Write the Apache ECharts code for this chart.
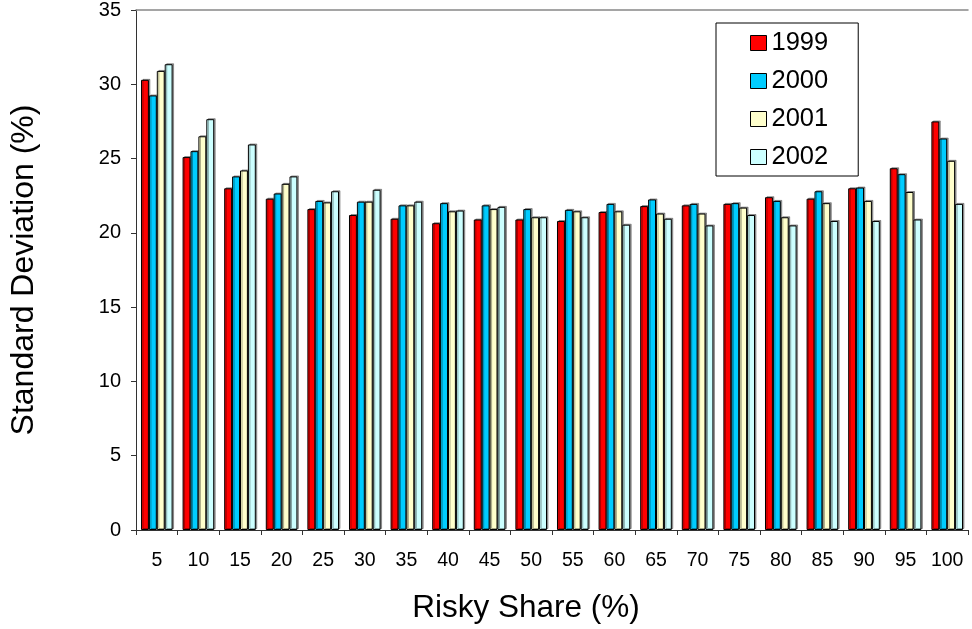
<!DOCTYPE html>
<html>
<head>
<meta charset="utf-8">
<script src="https://cdn.jsdelivr.net/npm/echarts@6/dist/echarts.min.js"></script>
<style>
html,body{margin:0;padding:0;background:#fff;}
#chart{width:972px;height:629px;}
</style>
</head>
<body>
<div id="chart"></div>
<script>
const categories = ['5','10','15','20','25','30','35','40','45','50','55','60','65','70','75','80','85','90','95','100'];
const s1999 = [30.3, 25.1, 23.0, 22.3, 21.6, 21.2, 20.95, 20.65, 20.9, 20.9, 20.8, 21.4, 21.8, 21.85, 21.95, 22.4, 22.3, 23.0, 24.35, 27.5];
const s2000 = [29.25, 25.5, 23.8, 22.65, 22.15, 22.1, 21.85, 22.0, 21.85, 21.6, 21.55, 21.95, 22.25, 21.95, 22.0, 22.15, 22.8, 23.05, 23.95, 26.35];
const s2001 = [30.9, 26.5, 24.2, 23.3, 22.05, 22.1, 21.85, 21.45, 21.6, 21.05, 21.45, 21.45, 21.3, 21.3, 21.7, 21.05, 22.0, 22.15, 22.75, 24.85];
const s2002 = [31.35, 27.65, 25.95, 23.8, 22.8, 22.9, 22.1, 21.5, 21.75, 21.05, 21.05, 20.55, 20.95, 20.5, 21.2, 20.5, 20.8, 20.8, 20.9, 21.95];
const seriesNames = ['1999','2000','2001','2002'];
const seriesData = [s1999, s2000, s2001, s2002];
const colors = ['#FF0000','#00CCFF','#FFFFCC','#CCFFFF'];

const font = 'Liberation Sans, Arial, sans-serif';
const chart = echarts.init(document.getElementById('chart'), null, {renderer:'canvas'});
chart.setOption({
  animation: false,
  backgroundColor: '#ffffff',
  textStyle: {fontFamily: font},
  grid: {left: 130, right: 4, top: 8.5, bottom: 95.5, containLabel: false},
  legend: {
    orient: 'vertical',
    left: 716, top: 23,
    padding: [7, 30, 6, 34],
    itemGap: 12,
    itemWidth: 16, itemHeight: 15,
    borderColor: '#000', borderWidth: 1,
    backgroundColor: '#fff',
    icon: 'rect',
    itemStyle: {borderColor: '#000', borderWidth: 1},
    textStyle: {fontSize: 25.5, color: '#000', fontFamily: font},
    data: seriesNames
  },
  xAxis: [{
    type: 'category',
    data: categories,
    name: 'Risky Share (%)',
    nameLocation: 'middle',
    nameGap: 62,
    nameTextStyle: {fontSize: 31.5, color: '#000', fontFamily: font, padding: [0, 52, 0, 0]},
    axisLine: {show: true, lineStyle: {color: '#333', width: 1}},
    axisTick: {show: true, length: 5, alignWithLabel: false, lineStyle: {color: '#333'}},
    axisLabel: {fontSize: 19.5, color: '#000', margin: 21, interval: 0},
    splitLine: {show: false}
  }, {
    type: 'category',
    data: categories,
    position: 'top',
    axisLine: {show: true, lineStyle: {color: '#888', width: 1.5}},
    axisTick: {show: false},
    axisLabel: {show: false},
    splitLine: {show: false}
  }],
  yAxis: {
    type: 'value',
    min: 0, max: 35, interval: 5,
    name: 'Standard Deviation (%)',
    nameLocation: 'middle',
    nameGap: 96,
    nameTextStyle: {fontSize: 32, color: '#000', fontFamily: font},
    axisLine: {show: true, lineStyle: {color: '#333', width: 1}},
    axisTick: {show: true, length: 5, inside: false, lineStyle: {color: '#333'}},
    axisLabel: {fontSize: 20, color: '#000', margin: 15},
    splitLine: {show: false}
  },
  series: seriesNames.map((n, i) => ({
    name: n,
    type: 'bar',
    data: seriesData[i],
    barGap: '0%',
    barCategoryGap: '24%',
    itemStyle: {color: colors[i], borderColor: '#000', borderWidth: 1,
      shadowColor: 'rgba(0,0,0,0.35)', shadowOffsetX: 1.5, shadowOffsetY: -1, shadowBlur: 0},
    emphasis: {disabled: true}
  }))
});
</script>
</body>
</html>
